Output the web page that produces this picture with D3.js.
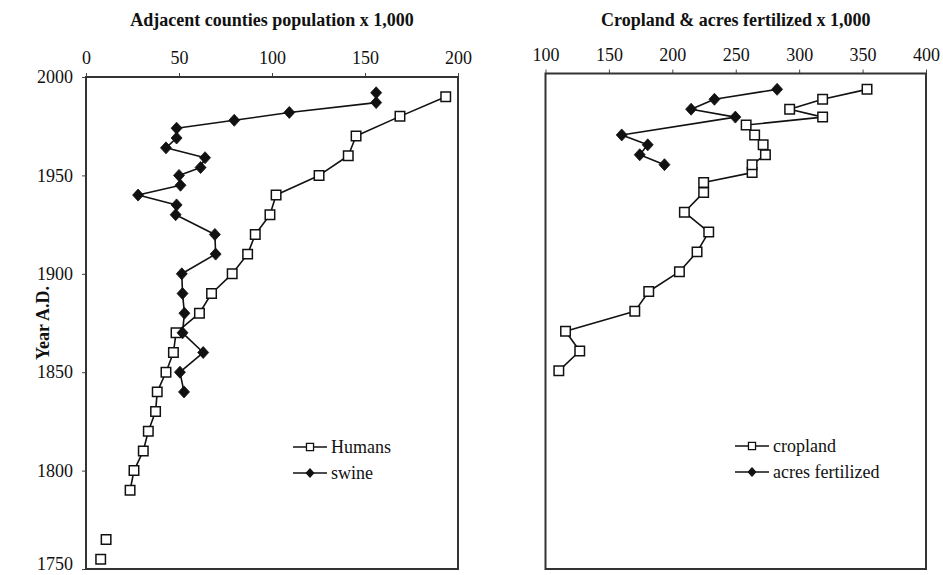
<!DOCTYPE html>
<html>
<head>
<meta charset="utf-8">
<script src="https://cdn.jsdelivr.net/npm/d3@7"></script>
<style>
  html, body { margin: 0; padding: 0; background: #fff; }
  svg text { font-family: "Liberation Serif", "Times New Roman", serif; fill: #111; }
</style>
</head>
<body>
<svg id="chart" width="943" height="575"></svg>
<script>
// Left panel: population of the adjacent counties (thousands)
const humansYears  = [1755, 1765, 1790, 1800, 1810, 1820, 1830, 1840, 1850, 1860, 1870, 1880, 1890, 1900, 1910, 1920, 1930, 1940, 1950, 1960, 1970, 1980, 1990];
const humansValues = [7.9, 10.8, 23.7, 25.8, 30.8, 33.5, 37.4, 38.3, 43, 47, 48.4, 61, 67.5, 78.6, 86.9, 91, 98.9, 102.2, 125.3, 141, 145.2, 168.8, 193.4];
// the two colonial estimates stand alone; the census series starts in 1790
const humansLineStart = 1790;

const swineYears  = [1840, 1850, 1860, 1870, 1880, 1890, 1900, 1910, 1920, 1930, 1935, 1940, 1945, 1950, 1954, 1959, 1964, 1969, 1974, 1978, 1982, 1987, 1992];
const swineValues = [52.7, 50.5, 63, 51.9, 52.9, 51.9, 51.5, 69.7, 69.3, 48.2, 48.7, 28, 50.8, 50, 61.6, 64, 43, 48.7, 48.7, 79.7, 109.3, 156, 156];

// Right panel: cropland and acres fertilized (thousands of acres)
const croplandYears  = [1850, 1860, 1870, 1880, 1890, 1900, 1910, 1920, 1930, 1940, 1945, 1950, 1954, 1959, 1964, 1969, 1974, 1978, 1982, 1987, 1992];
const croplandValues = [110.5, 127, 115.8, 170.4, 181.4, 205.6, 219.5, 228.7, 209.5, 224.7, 224.7, 262.9, 262.9, 273.4, 271.6, 264.9, 258.2, 318.5, 292.5, 318.5, 353.5];

const fertilizedYears  = [1954, 1959, 1964, 1969, 1978, 1982, 1987, 1992];
const fertilizedValues = [193.8, 174.3, 180.6, 160.1, 249.7, 214.8, 233.2, 282.6];

const leftTicksX  = [0, 50, 100, 150, 200];
const rightTicksX = [100, 150, 200, 250, 300, 350, 400];
const yearTicks   = [1750, 1800, 1850, 1900, 1950, 2000];

const svg = d3.select("#chart");
const ink = "#111";

const squareSym  = d3.symbol().type(d3.symbolSquare);
const diamondPath = (w, h) => `M0,${-h/2}L${w/2},0L0,${h/2}L${-w/2},0Z`;

function panel(cfg) {
  const x = d3.scaleLinear().domain(cfg.xDomain).range(cfg.xRange);
  const y = d3.scaleLinear().domain([1750, 2000]).range(cfg.yRange);
  const g = svg.append("g");

  // top value axis
  const ax = g.append("g")
    .attr("transform", `translate(0,${cfg.yRange[1]})`)
    .call(d3.axisTop(x).tickValues(cfg.xTicks).tickSize(4).tickPadding(9).tickFormat(d3.format("d")));
  ax.select(".domain").remove();
  ax.selectAll("line").attr("stroke", "#444").attr("stroke-width", 1);
  ax.selectAll("text").attr("font-size", 18).attr("fill", ink)
    .attr("font-family", '"Liberation Serif", serif');

  if (cfg.yAxis) {
    const ay = g.append("g")
      .attr("transform", `translate(${cfg.xRange[0]},0)`)
      .call(d3.axisLeft(y).tickValues(yearTicks).tickSize(4).tickPadding(9).tickFormat(d3.format("d")));
    ay.select(".domain").remove();
    ay.selectAll("line").attr("stroke", "#444").attr("stroke-width", 1);
    ay.selectAll("text").attr("font-size", 18).attr("fill", ink)
      .attr("font-family", '"Liberation Serif", serif')
      .attr("dy", d => d === 1750 ? "0.02em" : "0.32em");
  }

  // plot frame
  g.append("rect")
    .attr("x", cfg.xRange[0]).attr("y", cfg.yRange[1])
    .attr("width", cfg.xRange[1] - cfg.xRange[0])
    .attr("height", cfg.yRange[0] - cfg.yRange[1])
    .attr("fill", "none").attr("stroke", "#333").attr("stroke-width", 2);

  // title
  g.append("text")
    .attr("x", (cfg.xRange[0] + cfg.xRange[1]) / 2).attr("y", 26)
    .attr("text-anchor", "middle").attr("font-size", 18).attr("font-weight", "bold")
    .text(cfg.title);

  const line = d3.line().x(d => x(d.v)).y(d => y(d.yr));

  cfg.series.forEach(s => {
    const pts = s.years.map((yr, i) => ({ yr, v: s.values[i] }));
    const linked = pts.filter(d => d.yr >= (s.lineFrom ?? -Infinity));
    g.append("path").datum(linked)
      .attr("d", line).attr("fill", "none")
      .attr("stroke", ink).attr("stroke-width", 1.6).attr("stroke-linejoin", "round");
    const m = g.append("g").selectAll("path").data(pts).join("path")
      .attr("transform", d => `translate(${x(d.v)},${y(d.yr)})`);
    if (s.marker === "square") {
      m.attr("d", squareSym.size(90)()).attr("fill", "#fff").attr("stroke", ink).attr("stroke-width", 1.5);
    } else {
      m.attr("d", diamondPath(11, 12)).attr("fill", ink).attr("stroke", ink).attr("stroke-width", 0.8);
    }
  });

  // legend
  cfg.series.forEach((s, i) => {
    const ly = cfg.legend.y + i * 26;
    const lg = g.append("g");
    lg.append("line")
      .attr("x1", cfg.legend.x).attr("x2", cfg.legend.x + 34)
      .attr("y1", ly).attr("y2", ly).attr("stroke", ink).attr("stroke-width", 1.5);
    const mk = lg.append("path").attr("transform", `translate(${cfg.legend.x + 17},${ly})`);
    if (s.marker === "square") {
      mk.attr("d", squareSym.size(50)()).attr("fill", "#fff").attr("stroke", ink).attr("stroke-width", 1.3);
    } else {
      mk.attr("d", diamondPath(9, 10)).attr("fill", ink);
    }
    lg.append("text")
      .attr("x", cfg.legend.x + 38).attr("y", ly + 6)
      .attr("font-size", 18).text(s.name);
  });
}

panel({
  title: "Adjacent counties population x 1,000",
  xDomain: [0, 200], xRange: [86, 458], yRange: [569, 77],
  xTicks: leftTicksX, yAxis: true,
  legend: { x: 293, y: 447 },
  series: [
    { name: "Humans", years: humansYears, values: humansValues, marker: "square", lineFrom: humansLineStart },
    { name: "swine", years: swineYears, values: swineValues, marker: "diamond" }
  ]
});

panel({
  title: "Cropland & acres fertilized x 1,000",
  xDomain: [100, 400], xRange: [545.5, 926], yRange: [569, 73.5],
  xTicks: rightTicksX, yAxis: false,
  legend: { x: 735, y: 446 },
  series: [
    { name: "cropland", years: croplandYears, values: croplandValues, marker: "square" },
    { name: "acres fertilized", years: fertilizedYears, values: fertilizedValues, marker: "diamond" }
  ]
});

// shared vertical axis title
svg.append("text")
  .attr("transform", "translate(49,323) rotate(-90)")
  .attr("text-anchor", "middle").attr("font-size", 18).attr("font-weight", "bold")
  .text("Year A.D.");
</script>
</body>
</html>
